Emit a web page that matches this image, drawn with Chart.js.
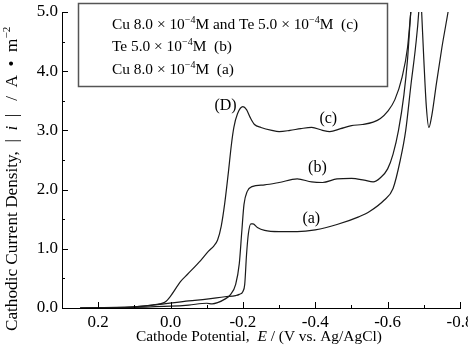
<!DOCTYPE html>
<html>
<head>
<meta charset="utf-8">
<script src="https://cdn.jsdelivr.net/npm/chart.js"></script>
<style>
  html, body { margin: 0; padding: 0; background: #fff; }
</style>
</head>
<body>
<canvas id="cv_chart" width="468" height="346"></canvas>
<script>
// cathode potential E (V vs. Ag/AgCl) and |i| (A/m2)
var potC = [0.25, 0.15, 0.1, 0.05, 0.03, 0.015, 0.0, -0.028, -0.047, -0.083, -0.105, -0.12, -0.13, -0.14, -0.15, -0.16, -0.168, -0.175, -0.185, -0.2, -0.21, -0.22, -0.232, -0.25, -0.28, -0.3, -0.33, -0.36, -0.39, -0.42, -0.44, -0.47, -0.5, -0.53, -0.56, -0.58, -0.6, -0.62, -0.64, -0.655, -0.664, -0.67];
var curC = [0.0, 0.01, 0.02, 0.05, 0.07, 0.1, 0.2, 0.45, 0.57, 0.8, 0.96, 1.05, 1.15, 1.38, 1.78, 2.3, 2.75, 3.05, 3.28, 3.4, 3.35, 3.22, 3.1, 3.05, 3.0, 2.98, 3.0, 3.03, 3.05, 3.0, 2.98, 3.03, 3.08, 3.1, 3.14, 3.2, 3.32, 3.52, 3.9, 4.4, 5.0, 5.4];

var potB = [0.25, 0.15, 0.1, 0.0, -0.05, -0.1, -0.115, -0.13, -0.15, -0.165, -0.18, -0.19, -0.197, -0.203, -0.212, -0.225, -0.26, -0.3, -0.35, -0.39, -0.42, -0.46, -0.5, -0.535, -0.56, -0.58, -0.6, -0.615, -0.63, -0.645, -0.655, -0.664, -0.67];
var curB = [0.0, 0.005, 0.01, 0.03, 0.05, 0.08, 0.07, 0.09, 0.15, 0.22, 0.4, 0.75, 1.3, 1.75, 1.97, 2.05, 2.08, 2.12, 2.18, 2.13, 2.12, 2.18, 2.19, 2.16, 2.13, 2.2, 2.35, 2.6, 3.0, 3.6, 4.2, 5.0, 5.4];

var potA = [0.25, 0.15, 0.1, 0.03, -0.05, -0.1, -0.15, -0.18, -0.19, -0.2, -0.205, -0.21, -0.215, -0.222, -0.228, -0.24, -0.26, -0.3, -0.35, -0.4, -0.46, -0.52, -0.55, -0.59, -0.615, -0.635, -0.65, -0.665, -0.677, -0.686, -0.69, -0.694, -0.7, -0.707, -0.714, -0.722, -0.735, -0.75, -0.767, -0.775];
var curA = [0.0, 0.005, 0.02, 0.06, 0.12, 0.15, 0.19, 0.21, 0.23, 0.28, 0.4, 0.9, 1.25, 1.42, 1.42, 1.36, 1.31, 1.29, 1.29, 1.32, 1.41, 1.54, 1.63, 1.82, 2.02, 2.5, 3.0, 3.8, 4.4, 5.0, 5.5, 5.0, 4.2, 3.4, 3.05, 3.25, 3.8, 4.4, 5.0, 5.3];

var xTicks = [0.2, 0.0, -0.2, -0.4, -0.6, -0.8];
var yTicks = [0, 1, 2, 3, 4, 5];

var legendLines = [
    [{ t: 'Cu 8.0 \u00d7 10' }, { t: '\u22124', sup: true }, { t: 'M and Te 5.0 \u00d7 10' }, { t: '\u22124', sup: true }, { t: 'M  (c)' }],
    [{ t: 'Te 5.0 \u00d7 10' }, { t: '\u22124', sup: true }, { t: 'M  (b)' }],
    [{ t: 'Cu 8.0 \u00d7 10' }, { t: '\u22124', sup: true }, { t: 'M  (a)' }]
];
var curveTags = ['(D)', '(c)', '(b)', '(a)'];

var SERIF = '"Liberation Serif", "Times New Roman", serif';

function toPoints(xs, ys) {
    return xs.map(function (x, i) { return { x: x, y: ys[i] }; });
}

function drawRuns(ctx, x, y, runs, size) {
    runs.forEach(function (r) {
        var fs = r.sup ? Math.round(size * 0.62) : size;
        ctx.font = (r.it ? 'italic ' : '') + fs + 'px ' + SERIF;
        ctx.fillText(r.t, x, r.sup ? y - size * 0.42 : y);
        x += ctx.measureText(r.t).width;
    });
    return x;
}

var decor = {
    id: 'decor',
    afterDraw: function (chart) {
        var ctx = chart.ctx, xs = chart.scales.x, ys = chart.scales.y, area = chart.chartArea;
        ctx.save();
        ctx.strokeStyle = '#000';
        ctx.lineWidth = 1;
        ctx.beginPath();
        // inward ticks, minor halfway between major ones
        for (var i = 0; i < xTicks.length; i++) {
            var px = Math.round(xs.getPixelForValue(xTicks[i])) + 0.5;
            ctx.moveTo(px, area.bottom); ctx.lineTo(px, area.bottom - 6);
            if (i < xTicks.length - 1) {
                var mx = Math.round(xs.getPixelForValue((xTicks[i] + xTicks[i + 1]) / 2)) + 0.5;
                ctx.moveTo(mx, area.bottom); ctx.lineTo(mx, area.bottom - 3);
            }
        }
        for (var j = 0; j < yTicks.length; j++) {
            var py = Math.round(ys.getPixelForValue(yTicks[j])) + 0.5;
            ctx.moveTo(area.left, py); ctx.lineTo(area.left + 6, py);
            if (j < yTicks.length - 1) {
                var my = Math.round(ys.getPixelForValue((yTicks[j] + yTicks[j + 1]) / 2)) + 0.5;
                ctx.moveTo(area.left, my); ctx.lineTo(area.left + 3, my);
            }
        }
        ctx.stroke();

        ctx.fillStyle = '#000';
        ctx.textBaseline = 'alphabetic';
        ctx.textAlign = 'left';

        // legend box
        ctx.strokeStyle = '#555';
        ctx.lineWidth = 1.5;
        ctx.strokeRect(78.5, 3.5, 309, 83);
        drawRuns(ctx, 112, 29, legendLines[0], 15.4);
        drawRuns(ctx, 112, 51, legendLines[1], 15.4);
        drawRuns(ctx, 112, 74, legendLines[2], 15.4);

        // curve tags
        var tagAt = [[-0.152, 3.42], [-0.436, 3.2], [-0.406, 2.36], [-0.389, 1.5]];
        ctx.font = '16px ' + SERIF;
        ctx.textAlign = 'center';
        ctx.textBaseline = 'middle';
        curveTags.forEach(function (t, k) {
            ctx.fillText(t, xs.getPixelForValue(tagAt[k][0]), ys.getPixelForValue(tagAt[k][1]));
        });

        // axis titles
        ctx.textAlign = 'left';
        ctx.textBaseline = 'alphabetic';
        drawRuns(ctx, 136, 341, [{ t: 'Cathode Potential,  ' }, { t: 'E', it: true }, { t: ' / (V vs. Ag/AgCl)' }], 15.4);
        ctx.translate(17, 331);
        ctx.rotate(-Math.PI / 2);
        drawRuns(ctx, 0, 0, [{ t: 'Cathodic Current Density,  |  ' }, { t: 'i', it: true }, { t: '  |   /  A  \u2022  m' }, { t: '\u22122', sup: true }], 17.2);
        ctx.restore();
    }
};

function lineSet(label, xs, ys) {
    return {
        label: label,
        data: toPoints(xs, ys),
        borderColor: '#1a1a1a',
        borderWidth: 1.2,
        pointRadius: 0,
        fill: false,
        cubicInterpolationMode: 'monotone'
    };
}

new Chart(document.getElementById('cv_chart').getContext('2d'), {
    type: 'line',
    data: {
        datasets: [
            lineSet('c', potC, curC),
            lineSet('b', potB, curB),
            lineSet('a', potA, curA)
        ]
    },
    options: {
        responsive: false,
        animation: false,
        layout: { padding: { left: 0, top: 12, right: 8, bottom: 0 } },
        plugins: { legend: { display: false }, tooltip: { enabled: false } },
        scales: {
            x: {
                type: 'linear',
                reverse: true,
                min: -0.8,
                max: 0.3,
                afterBuildTicks: function (s) { s.ticks = xTicks.map(function (v) { return { value: v }; }); },
                afterFit: function (s) { s.height = 38; s.paddingLeft = 0; s.paddingRight = 0; },
                grid: { display: false, drawTicks: false },
                border: { display: true, color: '#000', width: 1 },
                ticks: {
                    padding: 4, color: '#000', maxRotation: 0, autoSkip: false,
                    font: { family: SERIF, size: 17 },
                    callback: function (v) { return Number(v).toFixed(1); }
                }
            },
            y: {
                min: 0,
                max: 5,
                afterBuildTicks: function (s) { s.ticks = yTicks.map(function (v) { return { value: v }; }); },
                afterFit: function (s) { s.width = 62; s.paddingTop = 0; s.paddingBottom = 0; },
                grid: { display: false, drawTicks: false },
                border: { display: true, color: '#000', width: 1 },
                ticks: {
                    padding: 4, color: '#000',
                    font: { family: SERIF, size: 17 },
                    callback: function (v) { return Number(v).toFixed(1); }
                }
            }
        }
    },
    plugins: [decor]
});
</script>
</body>
</html>
